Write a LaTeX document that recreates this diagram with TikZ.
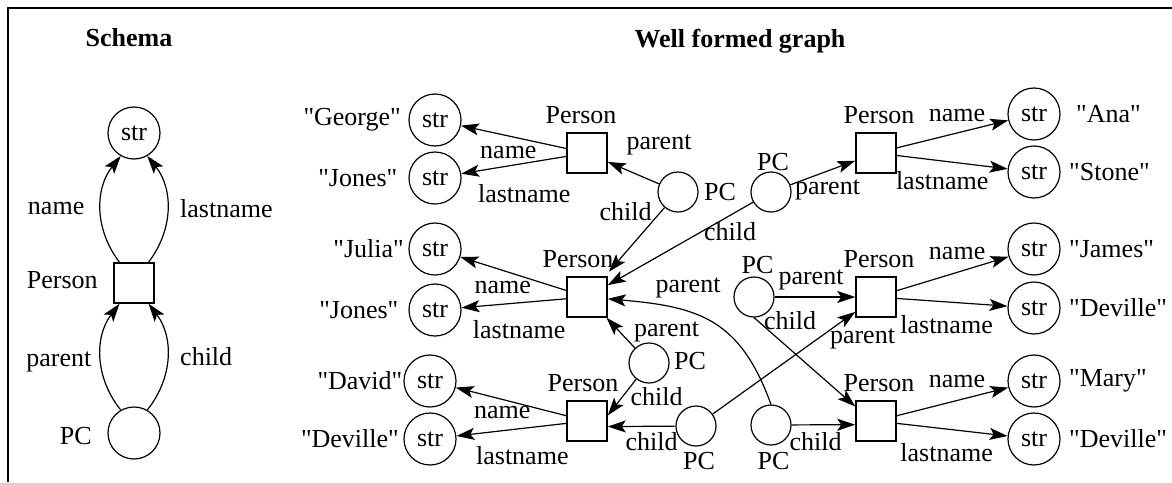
\documentclass[tikz,border=0pt]{standalone}
\usepackage{fontspec}
\setmainfont{Liberation Serif}
\usetikzlibrary{arrows.meta}

\newcommand{\qstr}[1]{\textquotedbl#1\textquotedbl}

\tikzset{
  strnode/.style={circle,draw,minimum size=52pt,inner sep=0pt},
  pcnode/.style={circle,draw,minimum size=40pt,inner sep=0pt},
  persnode/.style={draw,line width=1.5pt,minimum size=40pt,inner sep=0pt},
  arc/.style={-{Stealth[length=18pt,width=12pt,inset=4pt]}},
}

\begin{document}
\begin{tikzpicture}[x=1pt,y=1pt,line width=1.2pt,inner sep=2pt,font=\fontsize{26}{31}\selectfont]
   \useasboundingbox (0,0) rectangle (1172,-482);
   \draw[line width=1.5pt] (8,-482) -- (8,-8) -- (1172,-8);
   \node[font=\fontsize{26}{31}\selectfont\bfseries] (tschema) at (129,-38) {Schema};
   \node[font=\fontsize{26}{31}\selectfont\bfseries] (tgraph) at (740,-41) {Well formed graph};

   % schema
   \node[strnode] (sstr) at (134,-133) {str};
   \node[persnode,label={[label distance=13pt,yshift=3pt]left:Person}] (sperson) at (134,-283) {};
   \node[strnode,label={[label distance=13pt,yshift=-3.5pt]left:PC}] (spc) at (134,-433) {};
   \draw[arc] (sperson.125) to[bend left=38] node[left=14pt] {name} (sstr.240);
   \draw[arc] (sperson.55) to[bend right=38] node[right=10.5pt] {lastname} (sstr.300);
   \draw[arc] (spc.120) to[bend left=38] node[left=7pt,yshift=-5pt] {parent} (sperson.235);
   \draw[arc] (spc.60) to[bend right=38] node[right=10.5pt] {child} (sperson.305);

   % well formed graph: persons
   \node[persnode,label={[label distance=6pt,xshift=-6pt]above:Person}] (p1) at (587,-153) {};
   \node[persnode,label={[label distance=6pt,xshift=-9pt]above:Person}] (p2) at (587,-297) {};
   \node[persnode,label={[label distance=6pt,xshift=-4pt]above:Person}] (p3) at (587,-421) {};
   \node[persnode,label={[label distance=6pt,xshift=3pt]above:Person}] (p4) at (876,-153) {};
   \node[persnode,label={[label distance=6pt,xshift=3pt]above:Person}] (p5) at (876,-297) {};
   \node[persnode,label={[label distance=6pt,xshift=3pt]above:Person}] (p6) at (876,-421) {};

   % strings
   \node[strnode,label={[label distance=5pt]left:\qstr{George}}] (g1) at (435,-120) {str};
   \node[strnode,label={[label distance=8.5pt]left:\qstr{Jones}}] (g2) at (435,-178) {str};
   \node[strnode,label={[label distance=2pt]left:\qstr{Julia}}] (g3) at (435,-249) {str};
   \node[strnode,label={[label distance=7.5pt]left:\qstr{Jones}}] (g4) at (435,-310) {str};
   \node[strnode,label={[label distance=-1.5pt]left:\qstr{David}}] (g5) at (430,-381) {str};
   \node[strnode,label={[label distance=2pt]left:\qstr{Deville}}] (g6) at (430,-439) {str};
   \node[strnode,label={[label distance=13pt]right:\qstr{Ana}}] (a1) at (1034,-114) {str};
   \node[strnode,label={[label distance=6pt]right:\qstr{Stone}}] (a2) at (1034,-172) {str};
   \node[strnode,label={[label distance=6pt]right:\qstr{James}}] (a3) at (1034,-249) {str};
   \node[strnode,label={[label distance=6pt]right:\qstr{Deville}}] (a4) at (1034,-308) {str};
   \node[strnode,label={[label distance=6pt]right:\qstr{Mary}}] (a5) at (1034,-381) {str};
   \node[strnode,label={[label distance=6pt]right:\qstr{Deville}}] (a6) at (1034,-439) {str};

   % PC nodes
   \node[pcnode,label={[label distance=3pt]right:PC}] (c1) at (678,-192) {};
   \node[pcnode,label={[label distance=-2pt,xshift=2pt]above:PC}] (c2) at (771,-192) {};
   \node[pcnode,label={[label distance=0pt,xshift=3.5pt]above:PC}] (c3) at (754,-297) {};
   \node[pcnode,label={[label distance=2pt,yshift=2pt]right:PC}] (c4) at (649,-363) {};
   \node[pcnode,label={[label distance=3pt,xshift=3pt]below:PC}] (c5) at (696,-426) {};
   \node[pcnode,label={[label distance=4pt,xshift=2.5pt]below:PC}] (c6) at (771,-425) {};

   % attributes
   \draw[arc] (p1) -- (g1) node[pos=.55,below=7.3pt] {name};
   \draw[arc] (p1) -- (g2) node[pos=.4,below=19pt] {lastname};
   \draw[arc] (p2) -- (g3) node[pos=.6,below=8pt] {name};
   \draw[arc] (p2) -- (g4) node[pos=.45,below=14.6pt] {lastname};
   \draw[arc] (p3) -- (g5) node[pos=.58,below=3.8pt] {name};
   \draw[arc] (p3) -- (g6) node[pos=.4,below=15pt] {lastname};
   \draw[arc] (p4) -- (a1) node[pos=.54,above=8.8pt] {name};
   \draw[arc] (p4) -- (a2) node[pos=.41,below=7.4pt] {lastname};
   \draw[arc] (p5) -- (a3) node[pos=.54,above=10.2pt] {name};
   \draw[arc] (p5) -- (a4) node[pos=.45,below=10.5pt] {lastname};
   \draw[arc] (p6) -- (a5) node[pos=.54,above=10.3pt] {name};
   \draw[arc] (p6) -- (a6) node[pos=.45,below=11.4pt] {lastname};

   % parent / child links
   \draw[arc] (c1) -- (p1) node at (659,-145.4) {parent};
   \draw[arc,shorten >=6pt] (c1) -- (p2) node at (625.5,-211.3) {child};
   \draw[arc] (c2) -- (p4) node at (827.5,-190.4) {parent};
   \draw[arc] (c2) -- (p2) node at (730,-231.3) {child};
   \draw[arc] (c3) -- (p5) node at (811,-280.4) {parent};
   \draw[arc] (c3.south) -- (p6.145) node at (790,-320.6) {child};
   \draw[arc] (c4) -- (p2) node at (666.5,-332) {parent};
   \draw[arc] (c4) -- (p3.15) node at (656.5,-396.3) {child};
   \draw[arc] (c5) -- (p3.-15) node at (651.5,-442) {child};
   \draw[arc] (c5) -- (p5) node at (862.5,-338.7) {parent};
   \draw[arc] (c6.north) to[out=110,in=-5,looseness=1.2] (p2) node at (688,-288) {parent};
   \draw[arc] (c6) -- (p6.190) node at (815.5,-441.3) {child};
\end{tikzpicture}
\end{document}
